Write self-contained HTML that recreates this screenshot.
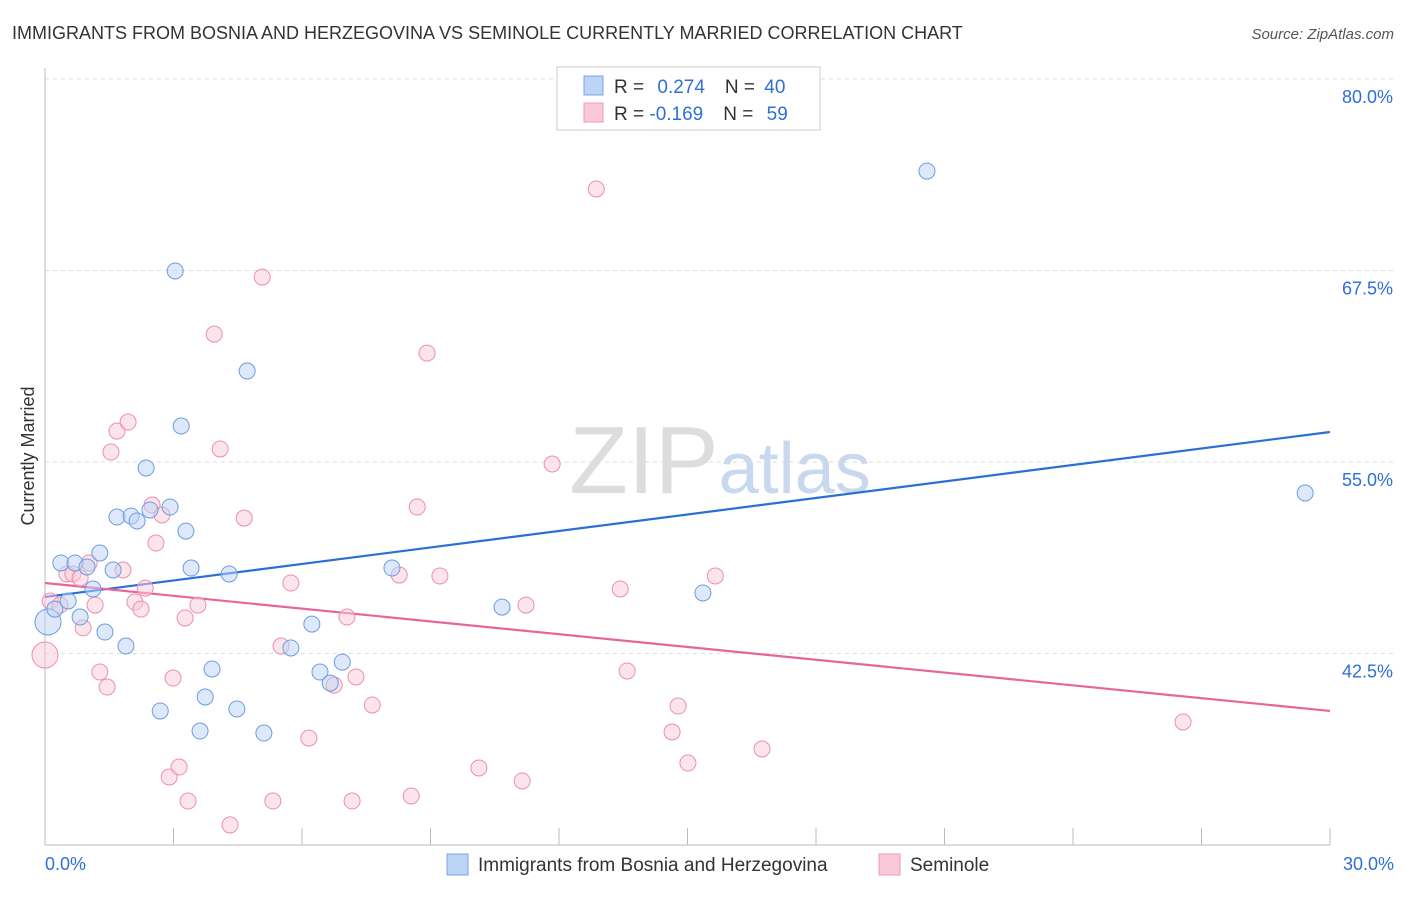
<!DOCTYPE html>
<html><head><meta charset="utf-8"><style>
body{margin:0;background:#fff;font-family:"Liberation Sans",sans-serif;}
svg text{font-family:"Liberation Sans",sans-serif;}
</style></head><body>
<svg width="1406" height="892">
<text x="12" y="39" font-size="18" fill="#333">IMMIGRANTS FROM BOSNIA AND HERZEGOVINA VS SEMINOLE CURRENTLY MARRIED CORRELATION CHART</text>
<text x="1394" y="39" font-size="15" fill="#555" text-anchor="end" font-style="italic">Source: ZipAtlas.com</text>
<text x="34" y="456" font-size="18" fill="#333" text-anchor="middle" transform="rotate(-90 34 456)">Currently Married</text>
<text x="720" y="493" font-size="96" fill="#ddd" text-anchor="middle" font-family="Liberation Serif">ZIP<tspan fill="#c8d8ee" font-family="Liberation Sans" font-size="72">atlas</tspan></text>
<g id="grid"></g><g id="axes"></g>
<g id="lines"></g><g id="pts"></g>
<g>
<rect x="557" y="67" width="263" height="63" fill="#fff" stroke="#ccc"/>
<rect x="584" y="76" width="19" height="19" fill="#bcd4f5" stroke="#7aa6e8"/>
<rect x="584" y="103" width="19" height="19" fill="#f9c9d8" stroke="#ef9ab5"/>
<text x="614" y="93" font-size="19" fill="#333">R = <tspan fill="#2f6fd6" dx="8">0.274</tspan><tspan dx="20" fill="#333">N = </tspan><tspan fill="#2f6fd6" dx="4">40</tspan></text>
<text x="614" y="120" font-size="19" fill="#333">R = <tspan fill="#2f6fd6">-0.169</tspan><tspan dx="20" fill="#333">N = </tspan><tspan fill="#2f6fd6" dx="8">59</tspan></text>
</g>
<g>
<rect x="447" y="854" width="21" height="21" fill="#bcd4f5" stroke="#7aa6e8"/>
<text x="478" y="871" font-size="19" fill="#333">Immigrants from Bosnia and Herzegovina</text>
<rect x="879" y="854" width="21" height="21" fill="#f9c9d8" stroke="#ef9ab5"/>
<text x="910" y="871" font-size="19" fill="#333">Seminole</text>
</g>
</svg>
<script>
const yTicks=[80,67.5,55,42.5];
const xTickLabels=["0.0%","30.0%"];
const blueX=[0.07,0.23,0.54,0.37,0.70,0.98,0.82,1.12,1.28,1.40,1.59,1.68,1.89,2.01,2.15,2.36,2.45,2.69,2.92,3.04,3.18,3.29,3.41,3.62,3.74,3.90,4.30,4.48,4.72,5.11,5.74,6.23,6.42,6.66,6.94,8.10,10.67,15.36,20.59,29.42];
const blueY=[44.56,45.40,45.93,48.41,48.41,48.15,44.88,46.71,49.06,43.90,47.95,51.41,42.99,51.47,51.15,54.61,51.87,38.75,52.06,67.47,57.35,50.49,48.08,37.44,39.66,41.49,47.69,38.88,60.94,37.31,42.86,44.42,41.29,40.57,41.94,48.08,45.53,46.45,73.99,52.98];
const pinkX=[0,0.12,0.35,0.51,0.65,0.82,0.89,1.03,1.17,1.28,1.45,1.54,1.68,1.82,1.94,2.10,2.24,2.34,2.50,2.59,2.73,2.90,2.99,3.13,3.27,3.34,3.57,3.95,4.09,4.32,4.65,5.07,5.32,5.51,5.74,6.16,6.75,7.05,7.17,7.26,7.64,8.27,8.55,8.69,8.92,9.22,10.13,11.14,11.23,11.84,12.87,13.43,13.59,14.64,14.78,15.01,15.65,16.74,26.57];
const pinkY=[42.40,45.93,45.66,47.69,47.69,47.43,44.17,48.41,45.66,41.29,40.31,55.65,57.02,47.95,57.61,45.86,45.40,46.77,52.19,49.71,51.54,34.44,40.90,35.09,44.82,32.87,45.66,63.35,55.85,31.31,51.34,67.07,32.87,42.99,47.10,36.98,40.44,44.88,32.87,40.97,39.14,47.62,33.20,52.06,62.11,47.56,35.03,34.18,45.66,54.87,72.82,46.71,41.36,37.38,39.07,35.35,47.56,36.27,38.03];
const blueTrend=[46.19,56.96];
const pinkTrend=[47.10,38.75];
const X=v=>45+v/30*1285, Y=v=>845-(v-30)/50*766;
const NS="http://www.w3.org/2000/svg";
function mk(t,a,p){const e=document.createElementNS(NS,t);for(const k in a)e.setAttribute(k,a[k]);document.getElementById(p).appendChild(e);return e;}
yTicks.forEach(t=>{
 const l=mk('line',{x1:45,x2:1394,y1:Y(t),y2:Y(t),stroke:'#ddd','stroke-dasharray':'4,4'},'grid');
 
 
 const tx=mk('text',{x:1393,y:Y(t)+24,'font-size':18,fill:'#2f6fd6','text-anchor':'end'},'grid');tx.textContent=t.toFixed(1)+'%';
 
 
});
mk('line',{x1:45,x2:45,y1:68,y2:845,stroke:'#bbb'},'axes');
mk('line',{x1:45,x2:1330,y1:845,y2:845,stroke:'#bbb'},'axes');
for(let i=0;i<=10;i++){const t=mk('line',{x1:X(i*3),x2:X(i*3),y1:828,y2:845,stroke:'#bbb'},'axes');
 
 }
[[0,'start',45],[30,'end',1394]].forEach((d,i)=>{const t=mk('text',{x:d[2],y:870,'font-size':18,fill:'#2f6fd6','text-anchor':d[1]},'axes');t.textContent=xTickLabels[i];
 
 });
function pts(xs,ys,fill,stroke,name){xs.forEach((x,i)=>{const c=mk('circle',{cx:X(x),cy:Y(ys[i]),r:i===0?13:8,fill:fill,'fill-opacity':0.5,stroke:stroke,'stroke-width':1},'pts');
 
 });}
pts(pinkX,pinkY,'#f9c9d8','#ec8fae','seminole-point');
pts(blueX,blueY,'#bcd4f5','#6c9de0','bosnia-point');
const bl=mk('line',{x1:X(0),x2:X(30),y1:Y(blueTrend[0]),y2:Y(blueTrend[1]),stroke:'#2a6fd6','stroke-width':2.2},'lines');


const pl=mk('line',{x1:X(0),x2:X(30),y1:Y(pinkTrend[0]),y2:Y(pinkTrend[1]),stroke:'#e8649a','stroke-width':2.2},'lines');


</script>
</body></html>
